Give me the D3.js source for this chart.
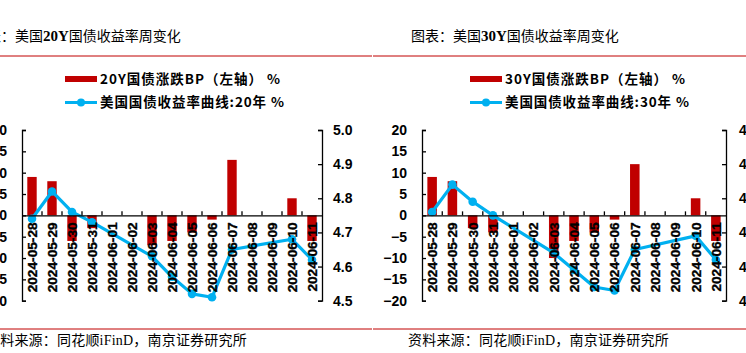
<!DOCTYPE html>
<html>
<head>
<meta charset="utf-8">
<script src="https://cdn.jsdelivr.net/npm/d3@7"></script>
<style>
  body { margin: 0; background: #fff; }
  svg { display: block; }
</style>
</head>
<body>
<script>
// dates on the category axis (weekends have no data)
const dates = ["2024-05-28", "2024-05-29", "2024-05-30", "2024-05-31", "2024-06-01",
               "2024-06-02", "2024-06-03", "2024-06-04", "2024-06-05", "2024-06-06",
               "2024-06-07", "2024-06-08", "2024-06-09", "2024-06-10", "2024-06-11"];

// weekly change, bp (left axis)
const bp20 = [9, 8, -6, -3, null, null, -7, -6, -4, -1, 13, null, null, 4, -6];
const bp30 = [9, 8, -3, -4, null, null, -10, -6, -4, -1, 12, null, null, 4, -6];

// yield curve level, % (right axis)
const yield20 = [4.74, 4.82, 4.76, 4.73, null, null, 4.63, 4.57, 4.52, 4.51, 4.65, null, null, 4.68, 4.62];
const yield30 = [4.66, 4.74, 4.69, 4.65, null, null, 4.54, 4.49, 4.44, 4.43, 4.55, null, null, 4.59, 4.52];

const leftTicks = [-20, -15, -10, -5, 0, 5, 10, 15, 20];
const rightTicks20 = [4.5, 4.6, 4.7, 4.8, 4.9, 5.0];
const rightTicks30 = [4.4, 4.5, 4.6, 4.7, 4.8, 4.9];

const RED = "#C00000";
const BLUE = "#00B0F0";
const NUM_FONT = "'Liberation Sans', Arial, sans-serif";
const CJK_FONT = "'Noto Sans CJK SC', sans-serif";

let svg = d3.select("body")
            .append("svg")
            .attr("width", 746)
            .attr("height", 353);

svg.append("rect").attr("width", 746).attr("height", 353).attr("fill", "#fff");

function drawPanel(o) {
    let g = svg.append("g");

    // title
    let title = g.append("text")
        .attr("x", o.titleX)
        .attr("y", 41)
        .style("font-family", CJK_FONT)
        .style("font-size", "14px")
        .attr("fill", "#000");
    title.append("tspan").text("图表：美国");
    title.append("tspan").text(o.tenor + "Y")
        .style("font-family", "'Liberation Serif', serif")
        .style("font-weight", "bold")
        .style("font-size", "15px");
    title.append("tspan").text("国债收益率周变化");

    // red rules
    g.append("line")
        .attr("x1", o.ruleX0).attr("x2", o.ruleX1)
        .attr("y1", 56).attr("y2", 56)
        .attr("stroke", RED).attr("stroke-width", 1);
    g.append("line")
        .attr("x1", o.ruleX0).attr("x2", o.ruleX1)
        .attr("y1", 329).attr("y2", 329)
        .attr("stroke", RED).attr("stroke-width", 1);

    // source
    let src = g.append("text")
        .attr("x", o.srcX)
        .attr("y", 345)
        .style("font-family", CJK_FONT)
        .style("font-size", "14px")
        .style("letter-spacing", "0.2px")
        .attr("fill", "#000");
    src.append("tspan").text("资料来源：同花顺");
    src.append("tspan").text("iFinD")
        .style("font-family", "'Liberation Serif', serif");
    src.append("tspan").text("，南京证券研究所");

    // legend
    let lg = g.append("g")
        .style("font-family", CJK_FONT)
        .style("font-size", "13.5px")
        .style("font-weight", "bold");
    lg.append("rect")
        .attr("x", o.legX).attr("y", 76)
        .attr("width", 32).attr("height", 6)
        .attr("fill", RED);
    lg.append("text")
        .attr("x", o.legX + 35).attr("y", 79)
        .attr("dy", "0.36em")
        .style("letter-spacing", "1px")
        .text(o.tenor + "Y国债涨跌BP（左轴） %");
    lg.append("line")
        .attr("x1", o.legX).attr("x2", o.legX + 32)
        .attr("y1", 102.5).attr("y2", 102.5)
        .attr("stroke", BLUE).attr("stroke-width", 3);
    lg.append("circle")
        .attr("cx", o.legX + 16).attr("cy", 102.5).attr("r", 4)
        .attr("fill", BLUE);
    lg.append("text")
        .attr("x", o.legX + 35).attr("y", 102)
        .attr("dy", "0.36em")
        .style("letter-spacing", "0.9px")
        .text("美国国债收益率曲线:" + o.tenor + "年 %");

    // scales
    let x = d3.scaleBand()
        .domain(dates)
        .range([o.x0, o.x1])
        .paddingInner(0.53)
        .paddingOuter(0.265);
    let yL = d3.scaleLinear().domain([-20, 20]).range([300.7, 130]);
    let yR = d3.scaleLinear().domain(o.rDomain).range([300.7, 130]);

    // bars
    let barData = dates.map((d, i) => ({ date: d, v: o.bp[i] })).filter(d => d.v !== null);
    g.append("g")
        .selectAll("rect")
        .data(barData)
        .enter()
        .append("rect")
        .attr("x", d => x(d.date))
        .attr("width", x.bandwidth())
        .attr("y", d => yL(Math.max(0, d.v)))
        .attr("height", d => Math.abs(yL(d.v) - yL(0)))
        .attr("fill", RED);

    // line (spans the weekend gaps)
    let lineData = dates.map((d, i) => ({ date: d, v: o.yld[i] })).filter(d => d.v !== null);
    let line = d3.line()
        .x(d => x(d.date) + x.bandwidth() / 2)
        .y(d => yR(d.v));
    g.append("path")
        .datum(lineData)
        .attr("d", line)
        .attr("fill", "none")
        .attr("stroke", BLUE)
        .attr("stroke-width", 3.2)
        .attr("stroke-linejoin", "round");
    g.append("g")
        .selectAll("circle")
        .data(lineData)
        .enter()
        .append("circle")
        .attr("cx", d => x(d.date) + x.bandwidth() / 2)
        .attr("cy", d => yR(d.v))
        .attr("r", 4.3)
        .attr("fill", BLUE);

    // left axis
    let axL = g.append("g")
        .attr("transform", "translate(" + o.x0 + ",0)")
        .call(d3.axisLeft(yL).tickValues(leftTicks).tickSizeInner(-4).tickSizeOuter(-4).tickPadding(15));
    // right axis
    let axR = g.append("g")
        .attr("transform", "translate(" + o.x1 + ",0)")
        .call(d3.axisRight(yR).tickValues(o.rTicks).tickFormat(d3.format(".1f"))
              .tickSizeInner(-4).tickSizeOuter(-4).tickPadding(o.rPad));
    [axL, axR].forEach(ax => {
        ax.selectAll("path, line").attr("stroke", "#000").attr("stroke-width", 1.3);
        ax.selectAll("text")
            .style("font-family", NUM_FONT)
            .style("font-size", "14px")
            .style("font-weight", "bold")
            .attr("fill", "#000");
    });

    // category axis on the zero line, ticks between categories pointing up
    let axX = g.append("g")
        .attr("transform", "translate(0," + yL(0) + ")")
        .call(d3.axisBottom(x).tickSize(0).tickSizeOuter(0));
    axX.select(".domain").attr("stroke", "#000").attr("stroke-width", 1.3);
    axX.selectAll("text")
        .attr("transform", "rotate(-90)")
        .attr("x", -7)
        .attr("y", 0)
        .attr("dy", "0.36em")
        .style("text-anchor", "end")
        .style("font-family", NUM_FONT)
        .style("font-size", "13.7px")
        .style("font-weight", "bold")
        .attr("fill", "#000")
        .attr("stroke", "#000")
        .attr("stroke-width", 0.35);
    axX.append("g")
        .selectAll("line")
        .data(dates.slice(1))
        .enter()
        .append("line")
        .attr("x1", d => x(d) - x.step() * x.paddingInner() / 2)
        .attr("x2", d => x(d) - x.step() * x.paddingInner() / 2)
        .attr("y1", 0).attr("y2", -4)
        .attr("stroke", "#000").attr("stroke-width", 1.3);
}

drawPanel({
    tenor: 20, bp: bp20, yld: yield20,
    rDomain: [4.5, 5.0], rTicks: rightTicks20, rPad: 11,
    x0: 22, x1: 322,
    titleX: -27, srcX: -14, ruleX0: 0, ruleX1: 372, legX: 65
});

drawPanel({
    tenor: 30, bp: bp30, yld: yield30,
    rDomain: [4.4, 4.9], rTicks: rightTicks30, rPad: 13,
    x0: 422, x1: 726,
    titleX: 411, srcX: 408, ruleX0: 373, ruleX1: 746, legX: 470
});
</script>
</body>
</html>
